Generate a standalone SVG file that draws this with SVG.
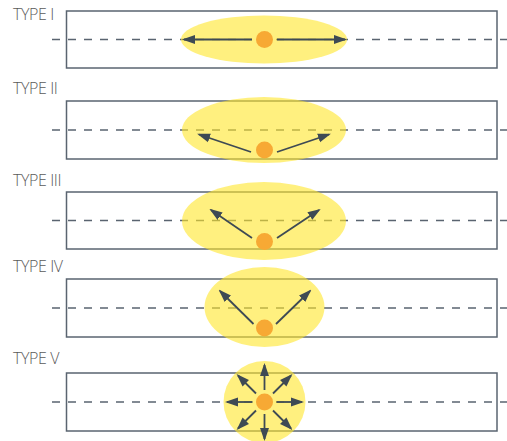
<svg xmlns="http://www.w3.org/2000/svg" width="507" height="441" viewBox="0 0 507 441">
<style>
.lbl{font-family:"Open Sans","Liberation Sans",sans-serif;font-size:16px;font-weight:300;fill:#5b5b5b;letter-spacing:-0.4px}
.box{fill:#ffffff;stroke:#5a6470;stroke-width:1.5}
.axis{stroke:#5a6470;stroke-width:1.6;stroke-dasharray:8 8;fill:none}
.zone{fill:#ffe629;fill-opacity:0.6}
.src{fill:#f7a934}
.arr{stroke:#3e4a54;stroke-width:1.8;fill:none;marker-end:url(#ah)}
</style>
<defs>
<marker id="ah" markerUnits="userSpaceOnUse" markerWidth="13" markerHeight="10" refX="11" refY="4.5" orient="auto" viewBox="0 0 13 9">
<path d="M0,0 L13,4.5 L0,9 z" fill="#3e4a54"/>
</marker>
</defs>
<rect width="507" height="441" fill="#ffffff"/>

<g id="type1">
<text class="lbl" x="13" y="20">TYPE I</text>
<rect class="box" x="66.5" y="11" width="430.5" height="57"/>
<line class="axis" x1="52" y1="39.5" x2="507" y2="39.5"/>
<ellipse class="zone" cx="264" cy="39.5" rx="83" ry="24"/>
<circle class="src" cx="264.5" cy="39.5" r="8.5"/>
</g>

<g id="type2">
<text class="lbl" x="13" y="94">TYPE II</text>
<rect class="box" x="66.5" y="101" width="430.5" height="58"/>
<line class="axis" x1="52" y1="130" x2="507" y2="130"/>
<ellipse class="zone" cx="264" cy="130" rx="82" ry="33"/>
<circle class="src" cx="264.5" cy="150" r="8.5"/>
</g>

<g id="type3">
<text class="lbl" x="13" y="186">TYPE III</text>
<rect class="box" x="66.5" y="192" width="430.5" height="57"/>
<line class="axis" x1="52" y1="220.5" x2="507" y2="220.5"/>
<ellipse class="zone" cx="264" cy="221" rx="82" ry="39"/>
<circle class="src" cx="264.5" cy="241.5" r="8.5"/>
</g>

<g id="type4">
<text class="lbl" x="13" y="272">TYPE IV</text>
<rect class="box" x="66.5" y="279" width="430.5" height="58"/>
<line class="axis" x1="52" y1="308" x2="507" y2="308"/>
<ellipse class="zone" cx="264.5" cy="307" rx="60" ry="40"/>
<circle class="src" cx="264.5" cy="328" r="8.5"/>
</g>

<g id="type5">
<text class="lbl" x="13" y="364">TYPE V</text>
<rect class="box" x="66.5" y="373" width="430.5" height="58"/>
<line class="axis" x1="52" y1="402" x2="507" y2="402"/>
<circle class="zone" cx="264.5" cy="402" r="41"/>
<circle class="src" cx="264.5" cy="402" r="8.5"/>
</g>

<g id="connectors">
<line class="arr" x1="252" y1="39.5" x2="184" y2="39.5"/>
<line class="arr" x1="277" y1="39.5" x2="345" y2="39.5"/>

<line class="arr" x1="251" y1="152" x2="199" y2="134.5"/>
<line class="arr" x1="277" y1="152" x2="329" y2="134.5"/>

<line class="arr" x1="252" y1="238" x2="211" y2="210"/>
<line class="arr" x1="277" y1="238" x2="319" y2="210"/>

<line class="arr" x1="253.5" y1="324" x2="220" y2="291"/>
<line class="arr" x1="276" y1="324" x2="310" y2="291"/>

<line class="arr" x1="264.5" y1="390" x2="264.5" y2="365"/>
<line class="arr" x1="264.5" y1="414" x2="264.5" y2="439"/>
<line class="arr" x1="252.5" y1="402" x2="227" y2="402"/>
<line class="arr" x1="276.5" y1="402" x2="302" y2="402"/>
<line class="arr" x1="273" y1="393.5" x2="291" y2="375.5"/>
<line class="arr" x1="256" y1="393.5" x2="238" y2="375.5"/>
<line class="arr" x1="273" y1="410.5" x2="291" y2="428.5"/>
<line class="arr" x1="256" y1="410.5" x2="238" y2="428.5"/>
</g>
</svg>
